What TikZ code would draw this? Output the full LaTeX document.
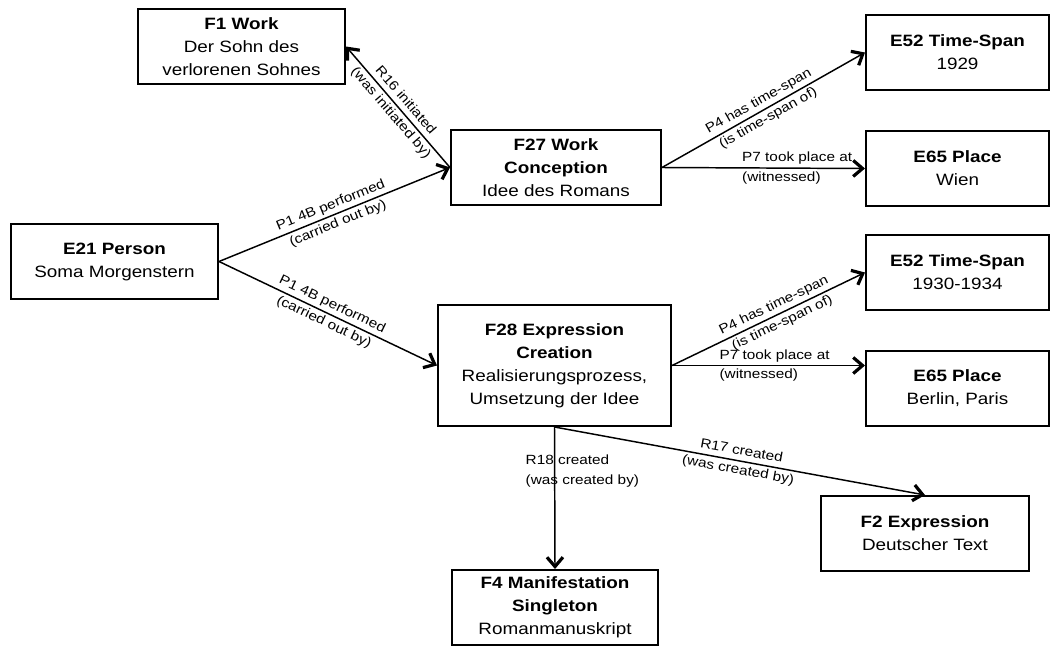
\documentclass[tikz,border=0pt]{standalone}
\usepackage{fontspec}
\setmainfont{Liberation Sans}[FakeStretch=1.15]
\usetikzlibrary{arrows.meta}
\tikzset{
  box/.style={draw, line width=1.5pt, align=center, inner sep=2pt,
    font=\fontsize{12.3}{17.25}\selectfont},
  wbox/.style={box, minimum width=#1},
  lbl/.style={align=center, inner sep=1pt, font=\fontsize{10}{14.5}\selectfont},
  arr/.style={line width=1.1pt, -{Straight Barb[length=7pt,width=12pt,line width=2.4pt]}}
}
\begin{document}
\begin{tikzpicture}[x=0.75pt,y=-0.75pt]
\useasboundingbox (0,0) rectangle (1063,646);
% nodes
\node[wbox=155.25pt, minimum height=56.25pt] (F1) at (241.5,46.5)
  {\textbf{F1 Work}\\Der Sohn des\\verlorenen Sohnes};
\node[wbox=157.5pt, minimum height=56.25pt] (F27) at (556,167.5)
  {\textbf{F27 Work}\\\textbf{Conception}\\Idee des Romans};
\node[wbox=137.25pt, minimum height=56.25pt] (E52a) at (957.5,52.5)
  {\textbf{E52 Time-Span}\\1929};
\node[wbox=137.25pt, minimum height=56.25pt] (E65a) at (957.5,168.5)
  {\textbf{E65 Place}\\Wien};
\node[wbox=155.25pt, minimum height=56.25pt] (E21) at (114.5,261.5)
  {\textbf{E21 Person}\\Soma Morgenstern};
\node[wbox=137.25pt, minimum height=56.25pt] (E52b) at (957.5,272.5)
  {\textbf{E52 Time-Span}\\1930-1934};
\node[wbox=137.25pt, minimum height=56.25pt] (E65b) at (957.5,388.5)
  {\textbf{E65 Place}\\Berlin, Paris};
\node[wbox=174.75pt, minimum height=90.75pt] (F28) at (554.5,365.5)
  {\textbf{F28 Expression}\\\textbf{Creation}\\Realisierungsprozess,\\Umsetzung der Idee};
\node[wbox=156pt, minimum height=56.25pt] (F2) at (925,533.5)
  {\textbf{F2 Expression}\\Deutscher Text};
\node[wbox=154.5pt, minimum height=56.25pt] (F4) at (555,607.5)
  {\textbf{F4 Manifestation}\\\textbf{Singleton}\\Romanmanuskript};
% connectors
\draw[arr] (F27.west) -- (F1.east)
  node[midway, sloped, lbl] {R16 initiated\\(was initiated by)};
\draw[arr] (E21.east) -- (F27.west)
  node[midway, sloped, lbl] {P1 4B performed\\(carried out by)};
\draw[arr] (E21.east) -- (F28.west)
  node[midway, sloped, lbl] {P1 4B performed\\(carried out by)};
\draw[arr] (F27.east) -- (E52a.west)
  node[midway, sloped, lbl] {P4 has time-span\\(is time-span of)};
\draw[arr] (F27.east) -- (E65a.west)
  node[pos=0.385, anchor=west, lbl, align=left] {P7 took place at\\(witnessed)};
\draw[arr] (F28.east) -- (E52b.west)
  node[pos=0.55, sloped, lbl] {P4 has time-span\\(is time-span of)};
\draw[arr] (F28.east) -- (F28.east -| E65b.west)
  node[pos=0.236, anchor=west, lbl, align=left] {P7 took place at\\(witnessed)};
\draw[arr] (F28.south) -- (F4.north)
  node[pos=0.31, anchor=west, xshift=-23.25pt, lbl, align=left] {R18 created\\(was created by)};
\draw[arr] (F28.south) -- (F2.north)
  node[midway, sloped, lbl] {R17 created\\(was created by)};
\end{tikzpicture}
\end{document}
